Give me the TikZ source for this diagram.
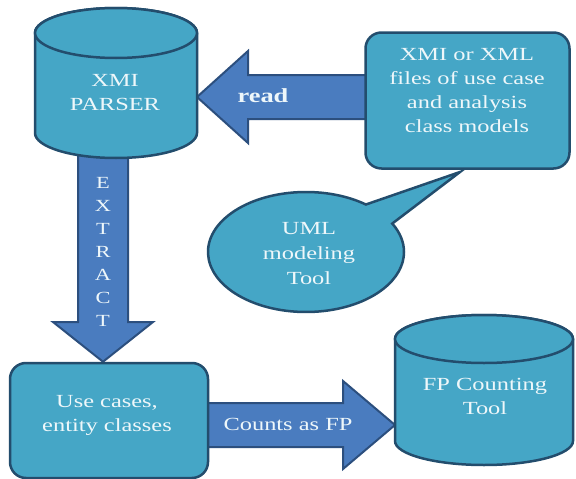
\documentclass[tikz,border=0pt]{standalone}
\usepackage{fontspec}
\setmainfont{Liberation Serif}[FakeStretch=1.32]
\usetikzlibrary{shapes.callouts,backgrounds}
\definecolor{tealfill}{HTML}{45A6C6}
\definecolor{tealedge}{HTML}{234D6D}
\definecolor{arrowfill}{HTML}{4A7CBF}
\definecolor{arrowedge}{HTML}{2C4F7E}
\definecolor{lbltext}{HTML}{EEF7FA}
\newcommand\drawcylinder[5]{%
  \path[tealshape] (#1-#4,#2+#5) -- (#1-#4,#3-#5)
    arc[start angle=180,end angle=360,x radius=#4pt,y radius=#5pt]
    -- (#1+#4,#2+#5)
    arc[start angle=0,end angle=180,x radius=#4pt,y radius=#5pt] -- cycle;
  \path[tealshape] (#1,#2+#5) ellipse[x radius=#4pt,y radius=#5pt];}
\begin{document}
\begin{tikzpicture}[x=1pt,y=-1pt,
  tealshape/.style={fill=tealfill,draw=tealedge,line width=2.5pt},
  blockarrow/.style={fill=arrowfill,draw=arrowedge,line width=2pt,line join=miter},
  lbl/.style={text=lbltext,font=\fontsize{18.5}{24}\selectfont,align=center,inner sep=0pt},
  roundbox/.style={tealshape,rounded corners=16pt,inner sep=0pt},
  anchorbox/.style={inner sep=0pt,outer sep=0pt}]
\useasboundingbox (0,0) rectangle (576,479);

% callout behind the file box
\coordinate (calltip) at (460,172);
\node[tealshape, ellipse callout, minimum width=196pt, minimum height=120pt,
      callout absolute pointer={(calltip)}, callout pointer arc=24] (uml) at (306,252) {};
\node[lbl, font=\fontsize{18.5}{25}\selectfont] (umltext) at (309,254) {UML\\modeling\\Tool};

% rounded boxes
\node[roundbox, minimum width=204pt, minimum height=136pt] (xmibox) at (467.5,100.5) {};
\node[lbl] (xmitext) at (467,91) {XMI or XML\\files of use case\\and analysis\\class models};
\node[roundbox, minimum width=198pt, minimum height=115pt] (ucbox) at (109,420.5) {};
\node[lbl] (uctext) at (107,415) {Use cases,\\entity classes};

% cylinders
\node[anchorbox, minimum width=162pt, minimum height=150pt] (parsercyl) at (116,83) {};
\drawcylinder{116}{8}{158}{81}{25}
\node[lbl] (parser) at (115,93) {XMI\\PARSER};
\node[anchorbox, minimum width=178pt, minimum height=150pt] (fpcyl) at (484,390) {};
\drawcylinder{484}{315}{465}{89}{24}
\node[lbl] (fptool) at (485,396) {FP Counting\\Tool};

% block arrows
\begin{scope}[on background layer]
\fill[white] (0,0) rectangle (576,479);
\draw[blockarrow] (xmibox.center |- 0,75) -- (248,75) -- (248,51) -- (parsercyl.east |- 0,97)
  -- (248,143) -- (248,119) -- (xmibox.center |- 0,119) -- cycle;
\draw[blockarrow] (78,140) -- (78,322) -- (53,322) -- (ucbox.north -| 103,0)
  -- (153,322) -- (128,322) -- (128,140) -- cycle;
\draw[blockarrow] (ucbox.center |- 0,403) -- (343,403) -- (343,381) -- (fpcyl.west |- 0,425)
  -- (343,469) -- (343,447) -- (ucbox.center |- 0,447) -- cycle;
\end{scope}

\node[lbl, font=\bfseries\fontsize{20}{24}\selectfont] (readlbl) at (263,96) {read};
\node[lbl, font=\fontsize{17}{23}\selectfont] (extractlbl) at (103,252) {E\\X\\T\\R\\A\\C\\T};
\node[lbl] (countslbl) at (288,424) {Counts as FP};
\end{tikzpicture}
\end{document}
